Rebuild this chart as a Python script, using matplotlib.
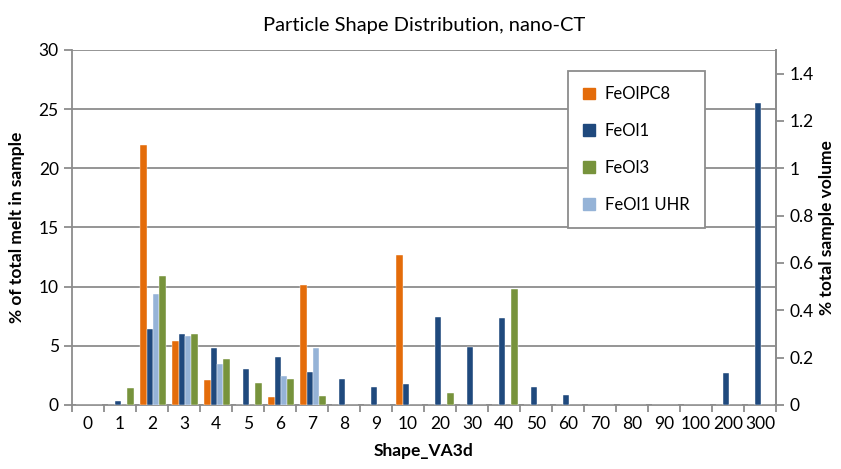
import numpy as np
import matplotlib
matplotlib.use("Agg")
import matplotlib.pyplot as plt
from matplotlib.patches import Patch

plt.rcParams['font.family'] = ['Lato', 'DejaVu Sans']

# categories of Shape_VA3d
cats = ['0', '1', '2', '3', '4', '5', '6', '7', '8', '9', '10', '20', '30',
        '40', '50', '60', '70', '80', '90', '100', '200', '300']

# % of total melt in sample, per series
feolpc8 = [0, 0, 22.0, 5.4, 2.1, 0, 0.65, 10.1, 0, 0, 12.7, 0, 0,
           0, 0, 0, 0, 0, 0, 0, 0, 0]
feol1 = [0, 0.36, 6.4, 6.0, 4.8, 3.06, 4.07, 2.75, 2.2, 1.55, 1.78, 7.4, 4.9,
         7.36, 1.5, 0.85, 0, 0, 0, 0, 2.72, 25.5]
feol3 = [0, 1.4, 10.87, 6.0, 3.85, 1.85, 2.16, 0.8, 0, 0, 0, 1.05, 0,
         9.8, 0, 0, 0, 0, 0, 0, 0, 0]
feol1_uhr = [0, 0, 9.4, 5.85, 3.43, 0, 2.47, 4.8, 0, 0, 0, 0, 0,
             0, 0, 0, 0, 0, 0, 0, 0, 0]

c_or = '#E46C0A'
c_db = '#1F497D'
c_gr = '#77933C'
c_lb = '#95B3D7'
grey = '#8C8C8C'

fig = plt.figure(figsize=(8.41, 4.69), dpi=100)
ax = fig.add_axes([0.0856, 0.1365, 0.8371, 0.7569])

x = np.arange(len(cats))
w = 0.2
series = [(feolpc8, c_or), (feol1, c_db), (feol1_uhr, c_lb), (feol3, c_gr)]
for i, (vals, col) in enumerate(series):
    ax.bar(x + (i - 1.5) * w + 0.03, vals, w, color=col,
           edgecolor='white', linewidth=0.3, zorder=3)

ax.set_xlim(-0.5, len(cats) - 0.5)
ax.set_ylim(0, 30)
ax.set_yticks(np.arange(0, 31, 5))
ax.yaxis.grid(True, color=grey, linewidth=1.3, zorder=0)
ax.set_xticks(x)
ax.set_xticklabels(cats, fontsize=12.5)
ax.tick_params(axis='x', length=0, pad=8)
ax.set_xticks(np.arange(-0.5, len(cats), 1), minor=True)
ax.tick_params(axis='x', which='minor', length=5, color=grey, width=1.3)
ax.tick_params(axis='y', length=6, color=grey, width=1.3, labelsize=12.5)
ax.spines['top'].set_visible(False)
for s in ['left', 'bottom', 'right']:
    ax.spines[s].set_color(grey)
    ax.spines[s].set_linewidth(1.3)

ax.set_ylabel('% of total melt in sample', fontsize=12.5, fontweight='bold', labelpad=10)
ax.set_xlabel('Shape_VA3d', fontsize=12.5, fontweight='bold', labelpad=8)
ax.set_title('Particle Shape Distribution, nano-CT', fontsize=14.5, pad=14)

ax2 = ax.twinx()
ax2.set_ylim(0, 1.5)
rt = [0, 0.2, 0.4, 0.6, 0.8, 1.0, 1.2, 1.4]
ax2.set_yticks(rt)
ax2.set_yticklabels(['0', '0.2', '0.4', '0.6', '0.8', '1', '1.2', '1.4'])
ax2.tick_params(axis='y', length=6, color=grey, width=1.3, labelsize=12.5)
for s in ['top', 'left', 'bottom']:
    ax2.spines[s].set_visible(False)
ax2.spines['right'].set_color(grey)
ax2.spines['right'].set_linewidth(1.3)
ax2.set_ylabel('% total sample volume', fontsize=12.5, fontweight='bold', labelpad=4)

handles = [Patch(color=c_or), Patch(color=c_db), Patch(color=c_gr), Patch(color=c_lb)]
labels = ['FeOlPC8', 'FeOl1', 'FeOl3', 'FeOl1 UHR']
leg = ax2.legend(handles, labels, loc='upper left', bbox_to_anchor=(0.705, 0.94),
                 fontsize=12, handlelength=0.7, handleheight=0.7, labelspacing=1.25,
                 borderpad=0.9, fancybox=False, framealpha=1, edgecolor=grey,
                 handletextpad=0.6, borderaxespad=0)
leg.get_frame().set_linewidth(1.3)

fig.savefig('out.png', dpi=100)
